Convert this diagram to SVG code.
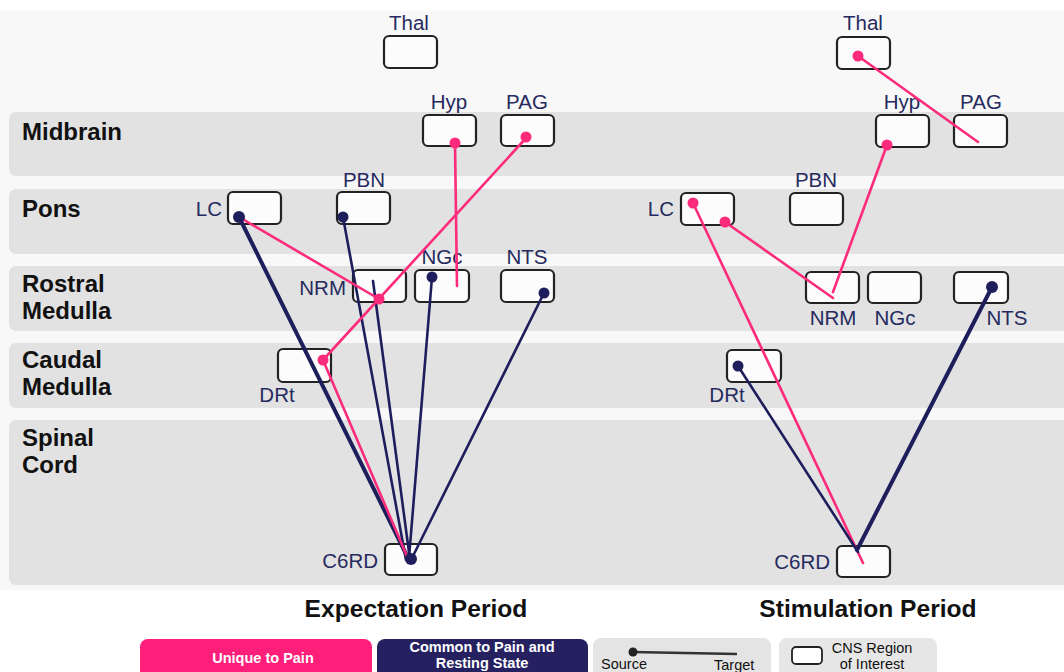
<svg xmlns="http://www.w3.org/2000/svg" width="1064" height="672" viewBox="0 0 1064 672">
<style>
.band{fill:#e2e2e2}
.bl{font-family:"Liberation Sans",Arial,sans-serif;font-weight:bold;font-size:24px;fill:#111}
.nl{font-family:"Liberation Sans",Arial,sans-serif;font-size:20.5px;fill:#262a5e}
.box{fill:#fdfcfc;stroke:#222;stroke-width:2.2}
.pk{stroke:#fc2b7b;stroke-width:2.6;fill:none;stroke-linecap:round}
.nv{stroke:#1f1e5c;stroke-width:2.6;fill:none;stroke-linecap:round}
.nvt{stroke:#1f1e5c;stroke-width:4;fill:none;stroke-linecap:round}
.dp{fill:#fc2b7b}
.dn{fill:#1f1e5c}
.tt{font-family:"Liberation Sans",Arial,sans-serif;font-weight:bold;font-size:24.6px;fill:#111}
.lg{font-family:"Liberation Sans",Arial,sans-serif;font-size:14.5px}
</style>
<rect x="0" y="0" width="1064" height="672" fill="#f8f8f8"/>
<rect x="0" y="0" width="1064" height="11" fill="#ffffff"/>
<rect x="0" y="590" width="1064" height="82" fill="#ffffff"/>
<g id="bands">
<rect class="band" x="9" y="112" width="1070" height="64" rx="7"/>
<rect class="band" x="9" y="189" width="1070" height="65" rx="7"/>
<rect class="band" x="9" y="266" width="1070" height="65" rx="7"/>
<rect class="band" x="9" y="343" width="1070" height="65" rx="7"/>
<rect class="band" x="9" y="420" width="1070" height="165" rx="7"/>
<text class="bl" x="22" y="140">Midbrain</text>
<text class="bl" x="22" y="217">Pons</text>
<text class="bl" x="22" y="292">Rostral</text>
<text class="bl" x="22" y="319">Medulla</text>
<text class="bl" x="22" y="368">Caudal</text>
<text class="bl" x="22" y="395">Medulla</text>
<text class="bl" x="22" y="446">Spinal</text>
<text class="bl" x="22" y="473">Cord</text>
</g>
<g id="L-Thal"><rect class="box" x="384" y="36" width="53" height="32" rx="5"/><text class="nl" x="409" y="30" text-anchor="middle">Thal</text></g>
<g id="L-Hyp"><rect class="box" x="423" y="115" width="53" height="31" rx="5"/><text class="nl" x="449" y="109" text-anchor="middle">Hyp</text></g>
<g id="L-PAG"><rect class="box" x="501" y="115" width="53" height="31" rx="5"/><text class="nl" x="527" y="109" text-anchor="middle">PAG</text></g>
<g id="L-LC"><rect class="box" x="228" y="192" width="53" height="32" rx="5"/><text class="nl" x="222" y="216" text-anchor="end">LC</text></g>
<g id="L-PBN"><rect class="box" x="337" y="192" width="53" height="32" rx="5"/><text class="nl" x="364" y="187" text-anchor="middle">PBN</text></g>
<g id="L-NRM"><rect class="box" x="353" y="270" width="53" height="32" rx="5"/><text class="nl" x="346" y="295" text-anchor="end">NRM</text></g>
<g id="L-NGc"><rect class="box" x="415" y="270" width="54" height="32" rx="5"/><text class="nl" x="442" y="264" text-anchor="middle">NGc</text></g>
<g id="L-NTS"><rect class="box" x="501" y="270" width="53" height="32" rx="5"/><text class="nl" x="527" y="264" text-anchor="middle">NTS</text></g>
<g id="L-DRt"><rect class="box" x="278" y="349" width="53" height="33" rx="5"/><text class="nl" x="277" y="402" text-anchor="middle">DRt</text></g>
<g id="L-C6RD"><rect class="box" x="385" y="544" width="52" height="31" rx="5"/><text class="nl" x="378" y="568" text-anchor="end">C6RD</text></g>

<g id="R-Thal"><rect class="box" x="837" y="37" width="53" height="32" rx="5"/><text class="nl" x="863" y="30" text-anchor="middle">Thal</text></g>
<g id="R-Hyp"><rect class="box" x="876" y="115" width="53" height="32" rx="5"/><text class="nl" x="902" y="109" text-anchor="middle">Hyp</text></g>
<g id="R-PAG"><rect class="box" x="954" y="115" width="53" height="32" rx="5"/><text class="nl" x="981" y="109" text-anchor="middle">PAG</text></g>
<g id="R-LC"><rect class="box" x="681" y="193" width="53" height="32" rx="5"/><text class="nl" x="674" y="216" text-anchor="end">LC</text></g>
<g id="R-PBN"><rect class="box" x="790" y="193" width="53" height="32" rx="5"/><text class="nl" x="816" y="187" text-anchor="middle">PBN</text></g>
<g id="R-NRM"><rect class="box" x="806" y="272" width="53" height="31" rx="5"/><text class="nl" x="833" y="325" text-anchor="middle">NRM</text></g>
<g id="R-NGc"><rect class="box" x="868" y="272" width="53" height="31" rx="5"/><text class="nl" x="895" y="325" text-anchor="middle">NGc</text></g>
<g id="R-NTS"><rect class="box" x="954" y="272" width="54" height="31" rx="5"/><text class="nl" x="1007" y="325" text-anchor="middle">NTS</text></g>
<g id="R-DRt"><rect class="box" x="727" y="350" width="54" height="32" rx="5"/><text class="nl" x="727" y="402" text-anchor="middle">DRt</text></g>
<g id="R-C6RD"><rect class="box" x="837" y="546" width="53" height="31" rx="5"/><text class="nl" x="830" y="569" text-anchor="end">C6RD</text></g>

<g id="connectors">
<line class="nvt" x1="239" y1="217" x2="410" y2="562"/>
<line class="nv" x1="343" y1="217" x2="406" y2="560"/>
<line class="nv" x1="410" y1="560" x2="373" y2="281"/>
<line class="nv" x1="432" y1="277" x2="409" y2="558"/>
<line class="nv" x1="544" y1="293" x2="413" y2="556"/>
<line class="pk" x1="455" y1="143" x2="457" y2="286"/>
<line class="pk" x1="527" y1="137" x2="323" y2="360"/>
<line class="pk" x1="379" y1="299" x2="239" y2="217"/>
<line class="pk" x1="323" y1="360" x2="409" y2="561"/>
<circle class="dn" cx="239" cy="217" r="6"/>
<circle class="dn" cx="343" cy="217" r="5.5"/>
<circle class="dn" cx="432" cy="277" r="5.5"/>
<circle class="dn" cx="544" cy="293" r="5.5"/>
<circle class="dn" cx="411" cy="559" r="6"/>
<circle class="dp" cx="455" cy="143" r="5.5"/>
<circle class="dp" cx="526" cy="137" r="5.5"/>
<circle class="dp" cx="379" cy="299" r="5.5"/>
<circle class="dp" cx="323" cy="360" r="5.5"/>

<line class="pk" x1="858" y1="56" x2="978" y2="142"/>
<line class="pk" x1="887" y1="145" x2="833" y2="292"/>
<line class="pk" x1="725" y1="222" x2="833" y2="298"/>
<line class="pk" x1="693" y1="203" x2="863" y2="563"/>
<line class="nv" x1="738" y1="366" x2="858" y2="552"/>
<line class="nvt" x1="992" y1="287" x2="857" y2="550"/>
<circle class="dp" cx="858" cy="56" r="5.5"/>
<circle class="dp" cx="887" cy="145" r="5.5"/>
<circle class="dp" cx="693" cy="203" r="5.5"/>
<circle class="dp" cx="725" cy="222" r="5.5"/>
<circle class="dn" cx="738" cy="366" r="5.5"/>
<circle class="dn" cx="992" cy="287" r="6"/>
</g>

<text class="tt" x="416" y="617" text-anchor="middle">Expectation Period</text>
<text class="tt" x="868" y="617" text-anchor="middle">Stimulation Period</text>

<g id="legend">
<rect x="140" y="639" width="232" height="45" rx="8" fill="#fd1f7a"/>
<text class="lg" x="263" y="663" text-anchor="middle" fill="#fff" font-weight="bold">Unique to Pain</text>
<rect x="377" y="639" width="211" height="45" rx="8" fill="#252160"/>
<text class="lg" x="482" y="652" text-anchor="middle" fill="#fff" font-weight="bold">Common to Pain and</text>
<text class="lg" x="482" y="668" text-anchor="middle" fill="#fff" font-weight="bold">Resting State</text>
<rect x="593" y="638" width="178" height="46" rx="8" fill="#e4e4e4"/>
<line x1="632" y1="652" x2="737" y2="654" stroke="#333" stroke-width="2.5"/>
<circle cx="633" cy="652" r="4.5" fill="#222"/>
<text class="lg" x="601" y="669" fill="#111">Source</text>
<text class="lg" x="714" y="670" fill="#111">Target</text>
<rect x="779" y="638" width="158" height="46" rx="8" fill="#e6e6e6"/>
<rect x="792" y="647" width="30" height="17" rx="4" fill="#fff" stroke="#222" stroke-width="1.8"/>
<text class="lg" x="872" y="653" text-anchor="middle" fill="#111">CNS Region</text>
<text class="lg" x="872" y="669" text-anchor="middle" fill="#111">of Interest</text>
</g>
</svg>
